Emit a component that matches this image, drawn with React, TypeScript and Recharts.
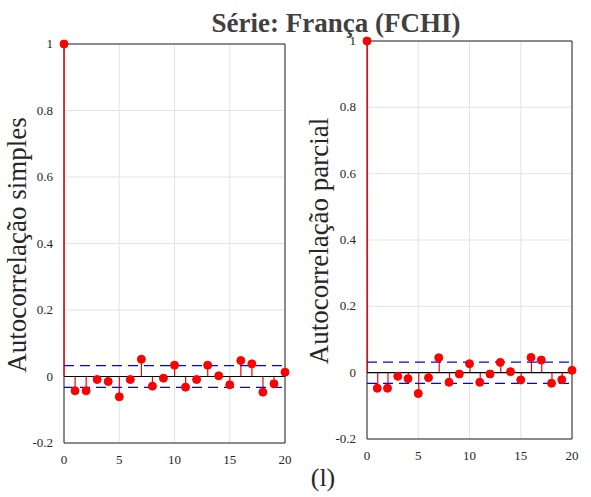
import React from "react";
import {
  ComposedChart,
  Bar,
  Scatter,
  XAxis,
  YAxis,
  CartesianGrid,
  ReferenceLine,
  ReferenceArea,
} from "recharts";

const lags = [0, 1, 2, 3, 4, 5, 6, 7, 8, 9, 10, 11, 12, 13, 14, 15, 16, 17, 18, 19, 20];
const acfValues = [
  1, -0.043, -0.043, -0.009, -0.015, -0.061, -0.009, 0.052, -0.029, -0.005, 0.034,
  -0.032, -0.009, 0.034, 0.002, -0.025, 0.048, 0.038, -0.047, -0.022, 0.013,
];
const pacfValues = [
  1, -0.047, -0.047, -0.011, -0.018, -0.063, -0.015, 0.045, -0.029, -0.004, 0.027,
  -0.029, -0.004, 0.031, 0.003, -0.022, 0.046, 0.038, -0.032, -0.021, 0.007,
];
const acfBound = 0.033;
const pacfBound = 0.032;
const xTicks = [0, 5, 10, 15, 20];
const yTicks = [-0.2, 0, 0.2, 0.4, 0.6, 0.8, 1];

const title = "Série: França (FCHI)";
const leftLabel = "Autocorrelação simples";
const rightLabel = "Autocorrelação parcial";
const caption = "(l)";

const FONT = "'Liberation Serif', 'Times New Roman', serif";
const AXIS = "#262626";

const buildData = (vals: number[]) => lags.map((lag, i) => ({ lag, v: vals[i] }));

const Dot = (props: any) => {
  const { cx, cy } = props;
  if (cx == null || cy == null) return null;
  return <circle cx={cx} cy={cy} r={4} fill="#ff0000" stroke="#ff0000" />;
};

const fmt = (v: number) => (v === 0 ? "0" : String(Number(v.toFixed(1))));

const XTick = (props: any) => {
  const { x, y, payload } = props;
  return (
    <text x={x} y={y + 12} textAnchor="middle" fontFamily={FONT} fontSize={13} fill={AXIS}>
      {payload.value}
    </text>
  );
};

const YTick = (props: any) => {
  const { x, y, payload } = props;
  return (
    <text x={x} y={y + 4} textAnchor="end" fontFamily={FONT} fontSize={13} fill={AXIS}>
      {fmt(payload.value)}
    </text>
  );
};

function Stem(props: {
  vals: number[];
  bound: number;
  width: number;
  height: number;
  margin: { top: number; right: number; bottom: number; left: number };
}) {
  const data = buildData(props.vals);
  return (
    <ComposedChart width={props.width} height={props.height} data={data} margin={props.margin}>
      <CartesianGrid stroke="#e3e3e3" strokeWidth={1} />
      <XAxis
        dataKey="lag"
        type="number"
        domain={[0, 20]}
        ticks={xTicks}
        tick={<XTick />}
        tickLine={false}
        axisLine={false}
        tickMargin={3}
        height={30}
      />
      <YAxis
        type="number"
        domain={[-0.2, 1]}
        ticks={yTicks}
        tick={<YTick />}
        tickLine={false}
        axisLine={false}
        tickMargin={5}
        width={34}
      />
      <ReferenceArea x1={0} x2={20} y1={-0.2} y2={1} fill="none" stroke={AXIS} strokeWidth={1} ifOverflow="visible" />
      <ReferenceLine y={0} stroke="#000000" strokeWidth={1.2} />
      <ReferenceLine y={props.bound} stroke="#0000ff" strokeDasharray="10 6" strokeWidth={1.3} />
      <ReferenceLine y={-props.bound} stroke="#0000ff" strokeDasharray="10 6" strokeWidth={1.3} />
      <Bar dataKey="v" barSize={1.2} fill="#ff0000" isAnimationActive={false} />
      <Scatter dataKey="v" shape={<Dot />} isAnimationActive={false} />
    </ComposedChart>
  );
}

export default function App() {
  return (
    <div style={{ position: "absolute", left: 0, top: 0, width: 591, height: 497, background: "#fff" }}>
      <div style={{ position: "absolute", left: 0, top: 0 }}>
        <Stem vals={acfValues} bound={acfBound} width={300} height={480}
          margin={{ top: 44, right: 15, bottom: 7, left: 30 }} />
      </div>
      <div style={{ position: "absolute", left: 300, top: 0 }}>
        <Stem vals={pacfValues} bound={pacfBound} width={290} height={476}
          margin={{ top: 41, right: 18, bottom: 7, left: 33 }} />
      </div>
      <svg width={591} height={497} style={{ position: "absolute", left: 0, top: 0, pointerEvents: "none" }}>
        <text x={336} y={32} textAnchor="middle" fontFamily={FONT} fontWeight="bold" fontSize={27} fill="#404040">
          {title}
        </text>
        <text x={0} y={0} transform="translate(26,245) rotate(-90)" textAnchor="middle" fontFamily={FONT} fontSize={27} fill={AXIS}>
          {leftLabel}
        </text>
        <text x={0} y={0} transform="translate(328,241) rotate(-90)" textAnchor="middle" fontFamily={FONT} fontSize={27} fill={AXIS}>
          {rightLabel}
        </text>
        <text x={323} y={486} textAnchor="middle" fontFamily={FONT} fontSize={26} fill={AXIS}>
          {caption}
        </text>
      </svg>
    </div>
  );
}
